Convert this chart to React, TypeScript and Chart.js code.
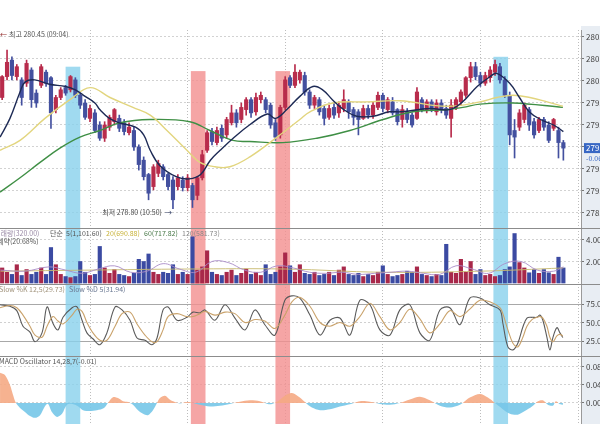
import React, { useEffect, useRef } from "react";
import { Chart, registerables } from "chart.js";

Chart.register(...registerables);

const FONT = "'Noto Sans CJK KR', 'Noto Sans', sans-serif";
Chart.defaults.font.family = FONT;

// ---------------- data ----------------
// 3-minute candles, time in minutes after 09:00
const candleTimes: number[] = Array.from({ length: 116 }, (_, i) => 6 + 3 * i);

const opens = [
  279.85, 280.04, 280.19, 280.04, 280.01, 279.98, 280.1, 279.89, 279.96, 280.08,
  280.03, 279.74, 279.85, 279.94, 279.92, 280.01, 279.87, 279.8, 279.66, 279.71,
  279.6, 279.48, 279.58, 279.63, 279.66, 279.62, 279.53, 279.55, 279.4, 279.28,
  279.15, 279.04, 279.16, 279.22, 279.15, 279.1, 279.04, 279.1, 279.03, 279.05,
  278.96, 279.12, 279.37, 279.54, 279.44, 279.57, 279.51, 279.62, 279.71, 279.65,
  279.74, 279.83, 279.72, 279.83, 279.83, 279.78, 279.62, 279.51, 279.76, 280.03,
  279.96, 280.01, 280.05, 279.9, 279.78, 279.83, 279.75, 279.67, 279.76, 279.71,
  279.75, 279.81, 279.74, 279.72, 279.66, 279.75, 279.69, 279.76, 279.87, 279.74,
  279.81, 279.74, 279.65, 279.72, 279.69, 279.66, 279.83, 279.74, 279.81, 279.72,
  279.8, 279.75, 279.66, 279.76, 279.81, 279.87, 280.03, 280.13, 280.05, 279.98,
  280.03, 280.08, 280.13, 280.01, 279.87, 279.55, 279.58, 279.65, 279.74, 279.63,
  279.55, 279.65, 279.6, 279.57, 279.55, 279.44,
];
const closes = [
  280.04, 280.17, 280.05, 280.13, 279.85, 280.16, 279.83, 279.8, 280.13, 279.98,
  279.71, 279.85, 279.92, 279.89, 280.04, 279.87, 279.78, 279.67, 279.75, 279.55,
  279.48, 279.6, 279.67, 279.74, 279.57, 279.54, 279.58, 279.4, 279.24, 279.13,
  278.98, 279.22, 279.25, 279.13, 279.04, 278.92, 279.12, 279.03, 279.12, 278.92,
  279.12, 279.33, 279.53, 279.45, 279.55, 279.48, 279.65, 279.71, 279.62, 279.76,
  279.83, 279.71, 279.85, 279.87, 279.74, 279.6, 279.49, 279.76, 280.01, 279.96,
  280.08, 280.08, 279.9, 279.78, 279.85, 279.72, 279.66, 279.75, 279.69, 279.78,
  279.83, 279.72, 279.67, 279.65, 279.75, 279.69, 279.78, 279.87, 279.75, 279.83,
  279.71, 279.63, 279.74, 279.65, 279.6, 279.9, 279.74, 279.81, 279.74, 279.8,
  279.74, 279.69, 279.78, 279.83, 279.9, 280.03, 280.13, 280.04, 279.98, 280.05,
  280.1, 280.15, 280.01, 279.87, 279.51, 279.49, 279.71, 279.78, 279.6, 279.51,
  279.65, 279.58, 279.46, 279.65, 279.44, 279.39,
];
const highs = [
  280.05, 280.28, 280.22, 280.15, 280.03, 280.19, 280.12, 279.92, 280.15, 280.1,
  280.04, 279.87, 279.94, 279.96, 280.05, 280.03, 279.89, 279.83, 279.78, 279.74,
  279.63, 279.63, 279.69, 279.75, 279.69, 279.65, 279.62, 279.58, 279.42, 279.31,
  279.16, 279.24, 279.28, 279.24, 279.16, 279.13, 279.15, 279.13, 279.15, 279.07,
  279.13, 279.37, 279.55, 279.57, 279.58, 279.6, 279.67, 279.78, 279.74, 279.8,
  279.85, 279.85, 279.89, 279.9, 279.85, 279.8, 279.65, 279.78, 280.04, 280.05,
  280.15, 280.1, 280.08, 279.92, 279.87, 279.85, 279.78, 279.78, 279.8, 279.81,
  279.92, 279.83, 279.76, 279.74, 279.78, 279.78, 279.81, 279.9, 279.89, 279.85,
  279.85, 279.75, 279.78, 279.75, 279.71, 279.94, 279.85, 279.83, 279.83, 279.83,
  279.83, 279.78, 279.83, 279.85, 279.92, 280.04, 280.17, 280.17, 280.08, 280.08,
  280.13, 280.19, 280.16, 280.04, 279.9, 279.65, 279.74, 279.8, 279.76, 279.66,
  279.67, 279.67, 279.63, 279.66, 279.58, 279.46,
];
const lows = [
  279.83, 280.01, 280.01, 280.01, 279.78, 279.95, 279.76, 279.76, 279.94, 279.95,
  279.57, 279.71, 279.83, 279.87, 279.9, 279.85, 279.75, 279.65, 279.63, 279.53,
  279.46, 279.45, 279.55, 279.6, 279.54, 279.51, 279.51, 279.37, 279.19, 279.1,
  278.92, 279.01, 279.13, 279.1, 279.01, 278.84, 279.01, 279.0, 279.0, 278.85,
  278.92, 279.1, 279.35, 279.42, 279.42, 279.45, 279.48, 279.6, 279.58, 279.62,
  279.69, 279.67, 279.69, 279.8, 279.71, 279.57, 279.46, 279.48, 279.74, 279.94,
  279.94, 279.98, 279.87, 279.75, 279.75, 279.69, 279.6, 279.65, 279.66, 279.67,
  279.72, 279.66, 279.6, 279.51, 279.65, 279.66, 279.66, 279.74, 279.72, 279.71,
  279.69, 279.6, 279.58, 279.62, 279.58, 279.65, 279.72, 279.71, 279.72, 279.69,
  279.71, 279.66, 279.49, 279.74, 279.78, 279.85, 279.99, 280.01, 279.95, 279.96,
  279.99, 280.05, 279.98, 279.85, 279.42, 279.3, 279.55, 279.62, 279.55, 279.48,
  279.53, 279.55, 279.44, 279.55, 279.3, 279.28,
];
const volumes = [
  1.4, 1.0, 0.8, 1.7, 0.7, 1.25, 0.8, 1.0, 1.4, 0.8,
  3.3, 1.7, 0.8, 0.6, 0.5, 0.6, 2.0, 1.0, 0.7, 0.8,
  3.4, 1.4, 0.9, 1.25, 0.8, 0.7, 0.6, 0.9, 2.2, 2.0,
  2.7, 1.0, 0.8, 1.0, 0.9, 1.7, 0.8, 1.0, 0.8, 4.3,
  1.2, 1.5, 3.0, 1.0, 0.8, 0.7, 1.0, 1.2, 0.7, 0.9,
  1.3, 0.8, 1.0, 0.7, 1.7, 0.8, 1.0, 1.5, 2.8, 1.6,
  1.0, 1.7, 0.9, 0.8, 1.0, 0.7, 0.8, 1.0, 0.7, 1.2,
  1.5, 0.8, 0.7, 0.9, 0.6, 0.8, 0.7, 1.0, 1.6, 0.8,
  0.6, 0.7, 0.8, 1.1, 1.0, 1.5, 0.8, 0.7, 0.6, 0.8,
  0.7, 3.6, 1.0, 0.9, 2.2, 1.0, 2.0, 0.8, 1.25, 0.7,
  0.8, 0.6, 0.7, 1.25, 1.5, 4.6, 1.9, 1.4, 0.95, 1.25,
  0.9, 1.25, 0.95, 0.8, 2.4, 1.4,
];

const ma5Times = [4.7, 10.8, 17, 20, 26, 35, 45, 51, 57, 63, 66, 72, 78, 88, 93, 97, 103, 113, 121, 128, 134, 140, 148, 158, 169, 174, 181, 189, 197, 203, 209, 216, 224, 234, 244, 251, 269, 281, 289, 298, 306, 310, 318, 324, 330, 337, 345, 351];
const ma5Values = [279.49, 279.66, 279.9, 279.99, 280.01, 279.97, 279.95, 279.92, 279.86, 279.8, 279.74, 279.66, 279.62, 279.58, 279.51, 279.37, 279.23, 279.13, 279.11, 279.15, 279.28, 279.37, 279.48, 279.6, 279.7, 279.66, 279.74, 279.86, 279.95, 279.92, 279.83, 279.74, 279.68, 279.68, 279.72, 279.72, 279.75, 279.74, 279.81, 279.95, 280.04, 280.07, 279.98, 279.85, 279.72, 279.65, 279.6, 279.54];
const ma20Times = [4.7, 17, 32.3, 47.7, 60, 72.3, 86.4, 97, 107.3, 119.6, 127.6, 136.8, 146, 158.3, 175, 189, 195.2, 209.3, 230.2, 250.5, 279.4, 299.7, 310.2, 320, 330.4, 341, 350.7];
const ma20Values = [279.37, 279.46, 279.66, 279.83, 279.94, 279.85, 279.76, 279.69, 279.55, 279.37, 279.26, 279.22, 279.22, 279.31, 279.49, 279.65, 279.72, 279.8, 279.81, 279.82, 279.77, 279.81, 279.85, 279.87, 279.85, 279.81, 279.77];
const ma60Times = [4.7, 17, 29.3, 41.5, 53.8, 66.1, 78.4, 96.9, 121.4, 133.7, 147.9, 158.3, 178.6, 199.5, 219.8, 240.1, 258.5, 279.4, 289.2, 299.7, 320, 350.7];
const ma60Values = [278.99, 279.12, 279.26, 279.39, 279.49, 279.55, 279.62, 279.65, 279.63, 279.55, 279.46, 279.45, 279.44, 279.48, 279.55, 279.65, 279.72, 279.74, 279.76, 279.79, 279.8, 279.76];

const volMa5Times = [5, 20, 35, 45, 55, 65, 75, 85, 95, 105, 115, 125, 135, 145, 155, 165, 175, 185, 195, 205, 215, 225, 235, 245, 255, 265, 275, 285, 295, 305, 315, 325, 335, 345, 351];
const volMa5Values = [1.2, 1.1, 1.5, 1.2, 0.9, 1.3, 1.6, 1.0, 1.1, 1.8, 1.3, 1.0, 2.0, 1.9, 1.2, 1.0, 1.6, 1.4, 1.0, 0.9, 1.0, 0.8, 0.9, 1.0, 1.1, 0.9, 0.8, 1.6, 1.3, 0.9, 1.8, 2.0, 1.2, 1.1, 1.5];
const volMa20Times = [5, 60, 120, 180, 240, 300, 351];
const volMa20Values = [1.1, 1.2, 1.3, 1.3, 1.0, 1.1, 1.4];

const stochTimes = [4.7, 10.8, 15, 18.8, 23.1, 26.2, 30.5, 33.6, 37.2, 40.3, 43.4, 49, 52, 55.1, 58.1, 61.8, 66.1, 70.4, 75.4, 79.7, 84.6, 88.9, 93.8, 98.1, 101.2, 104.9, 108, 113.5, 119.6, 123.3, 127.6, 130.7, 136.8, 143, 149.1, 155.3, 161.4, 167.5, 173.7, 179.8, 184.1, 189, 195.2, 201.4, 207.5, 213.6, 219.8, 225.9, 232.1, 238.2, 244.4, 250.5, 256.6, 262.8, 268.9, 275.1, 281.2, 287.4, 293.5, 299.7, 305.8, 312, 313.8, 316.9, 320, 323, 326.1, 328.6, 331.7, 334.7, 336.6, 338.4, 340.9, 342.7, 344.6, 347, 348.9, 350.7];
const stochK = [74, 72, 66, 45, 37, 24, 36, 71, 49, 40, 57, 70, 71, 53, 36, 28, 20, 36, 71, 67, 53, 29, 26, 20, 29, 67, 71, 53, 57, 64, 63, 67, 53, 74, 56, 40, 67, 47, 33, 80, 86, 83, 60, 33, 53, 56, 33, 80, 74, 40, 33, 67, 74, 36, 26, 67, 70, 47, 83, 83, 74, 67, 49, 17, 13, 22, 44, 56, 57, 57, 60, 53, 30, 13, 30, 43, 36, 29.7];
const stochD = [70, 73, 70, 60, 45, 33, 30, 45, 58, 52, 48, 60, 68, 65, 50, 36, 26, 26, 45, 62, 64, 48, 33, 24, 24, 40, 58, 62, 58, 58, 62, 65, 60, 64, 62, 50, 54, 52, 42, 60, 78, 84, 72, 50, 45, 50, 45, 58, 76, 58, 40, 50, 68, 55, 36, 48, 66, 58, 68, 80, 78, 70, 62, 40, 22, 17, 30, 45, 54, 57, 58, 56, 45, 30, 24, 32, 34, 31.9];

const macdTimes = [4.7, 7.7, 10.8, 12.7, 14.5, 17, 20, 23.1, 26.2, 29.3, 32.3, 34.2, 36.6, 39.7, 42.8, 45.8, 49, 52.6, 55.7, 60, 64.3, 68.6, 71, 74.1, 77.2, 80.3, 83.4, 86.4, 89.5, 92.6, 95.6, 98.7, 101.2, 103, 106.1, 109.2, 112.2, 115.3, 119.6, 123.3, 127.6, 133.7, 139.9, 146, 152.2, 158.3, 164.5, 170.6, 175.5, 179.8, 184.1, 189, 192.7, 196.4, 201.4, 207.5, 213.6, 219.8, 225.9, 232.1, 238.2, 244.4, 250.5, 256.6, 262.8, 268.9, 275.1, 281.2, 287.4, 293.5, 299.7, 304.6, 308.9, 313.2, 318.1, 323, 327.3, 331.7, 335.4, 338.4, 341.5, 344.6, 346.4, 348.9, 350.7];
const macdValues = [
  0.067, 0.062, 0.04, 0.018, 0.0, -0.011, -0.02, -0.029, -0.033, -0.027,
  -0.007, -0.002, -0.02, -0.031, -0.024, -0.004, -0.002, -0.007, -0.016, -0.018,
  -0.016, -0.011, 0.0, 0.013, 0.011, 0.004, 0.002, -0.004, -0.016, -0.024,
  -0.027, -0.016, 0.0, 0.011, 0.016, 0.007, 0.002, -0.001, 0.002, 0.0,
  -0.004, -0.008, -0.006, -0.002, 0.003, 0.006, 0.004, -0.003, 0.004, 0.016,
  0.022, 0.012, 0.0, -0.01, -0.016, -0.014, -0.008, -0.003, 0.004, 0.003,
  -0.002, -0.004, 0.0, 0.008, 0.014, 0.006, -0.006, -0.01, -0.004, 0.012,
  0.02, 0.012, 0.0, -0.012, -0.024, -0.026, -0.018, -0.008, 0.004, 0.006,
  -0.004, -0.006, 0.004, -0.003, -0.004,
];

const hourTicks = [60, 120, 180, 240, 300, 360];
const priceTicks = [278.8, 279.0, 279.2, 279.4, 279.6, 279.8, 280.0, 280.2, 280.4];
const volumeTicks = [2, 4];
const stochTicks = [25, 50, 75];
const macdTicks = [0, 0.04, 0.08];

const bandFrom = [45, 122, 174, 308];
const bandTo = [54, 131, 183, 317];
const bandKind = ["blue", "red", "red", "blue"];
const bandTopPrice = [280.13, 280.09, 280.09, 280.22];

// ---------------- layout / style ----------------
const CW = 630;
const AXIS_W = 49;
const X_MIN = 4.67;
const X_MAX = 361.84;
const UP = "#b82c4c";
const DOWN = "#43509f";
const VUP = "#a8284a";
const VDOWN = "#3b4aa2";
const candleColors = closes.map((c, i) => (c >= opens[i] ? UP : DOWN));
const volColors = closes.map((c, i) => (c >= opens[i] ? VUP : VDOWN));

const pts = (xs: number[], ys: number[]) => xs.map((x, i) => ({ x, y: ys[i] }));

function scales(yMin: number, yMax: number, ticks: number[], fmt: (v: number) => string, gridColor: any, dash: any) {
  return {
    x: {
      type: "linear",
      min: X_MIN,
      max: X_MAX,
      offset: false,
      afterBuildTicks: (s: any) => {
        s.ticks = hourTicks.map((v) => ({ value: v }));
      },
      afterFit: (s: any) => {
        s.height = 0;
        s.paddingLeft = 0;
        s.paddingRight = 0;
      },
      ticks: { display: false },
      grid: { color: "#bdbdbd", drawTicks: false, offset: false },
      border: { display: false, dash: [1, 2] },
    },
    y: {
      type: "linear",
      position: "right",
      min: yMin,
      max: yMax,
      afterBuildTicks: (s: any) => {
        s.ticks = ticks.map((v) => ({ value: v }));
      },
      afterFit: (s: any) => {
        s.width = AXIS_W;
        s.paddingTop = 0;
        s.paddingBottom = 0;
      },
      ticks: {
        color: "#444",
        font: { size: 8, family: FONT },
        padding: 2,
        callback: (v: any) => fmt(Number(v)),
      },
      grid: { color: gridColor, tickLength: 3, tickColor: "#777" },
      border: { display: true, color: "#9a9a9a", dash },
    },
  };
}

function bandsPlugin(tops: number[] | null) {
  return {
    id: "bands",
    beforeDatasetsDraw(chart: any) {
      const { ctx, chartArea, scales: sc } = chart;
      ctx.save();
      bandFrom.forEach((from, k) => {
        const x1 = sc.x.getPixelForValue(from);
        const x2 = sc.x.getPixelForValue(bandTo[k]);
        const top = tops ? sc.y.getPixelForValue(tops[k]) : chartArea.top;
        ctx.fillStyle = bandKind[k] === "blue" ? "rgba(136,209,236,0.8)" : "rgba(242,142,142,0.8)";
        ctx.fillRect(x1, top, x2 - x1, chartArea.bottom - top);
      });
      ctx.restore();
    },
  };
}

function overlayPlugin(draw: (chart: any) => void) {
  return { id: "overlay", afterDraw: draw };
}

function separator(chart: any) {
  const { ctx, chartArea } = chart;
  ctx.save();
  ctx.strokeStyle = "#8c8c8c";
  ctx.lineWidth = 1;
  ctx.beginPath();
  ctx.moveTo(0, chartArea.top + 0.5);
  ctx.lineTo(CW, chartArea.top + 0.5);
  ctx.stroke();
  ctx.restore();
}

function put(ctx: any, s: string, x: number, y: number, color: string, align = "left", size = 7) {
  ctx.font = `${size}px ${FONT}`;
  ctx.textBaseline = "middle";
  ctx.textAlign = align;
  ctx.fillStyle = color;
  ctx.fillText(s, x, y);
}

const common = {
  responsive: false,
  animation: false,
  events: [],
  plugins: { legend: { display: false }, tooltip: { enabled: false } },
};

function priceConfig(): any {
  const lowIdx = lows.indexOf(Math.min(...lows));
  const last = closes.length - 1;
  return {
    type: "bar",
    data: {
      datasets: [
        { type: "line", data: pts(ma5Times, ma5Values), borderColor: "#1d2a55", borderWidth: 1.4, pointRadius: 0, tension: 0.4, order: 0 },
        { type: "line", data: pts(ma20Times, ma20Values), borderColor: "#e2d57e", borderWidth: 1.4, pointRadius: 0, tension: 0.4, order: 0 },
        { type: "line", data: pts(ma60Times, ma60Values), borderColor: "#3f8f45", borderWidth: 1.4, pointRadius: 0, tension: 0.4, order: 0 },
        { type: "bar", data: candleTimes.map((t, i) => ({ x: t, y: [opens[i], closes[i]] })), backgroundColor: candleColors, barThickness: 3.5, grouped: false, minBarLength: 1, order: 2 },
        { type: "bar", data: candleTimes.map((t, i) => ({ x: t, y: [lows[i], highs[i]] })), backgroundColor: candleColors, barThickness: 1, grouped: false, order: 3 },
      ],
    },
    options: {
      ...common,
      layout: { padding: { top: 4, bottom: 0, left: 0, right: 0 } },
      scales: scales(278.6636, 280.4636, priceTicks, (v) => v.toFixed(2), "#d2d2d2", [2, 2]),
    },
    plugins: [
      bandsPlugin(bandTopPrice),
      overlayPlugin((chart: any) => {
        const { ctx, chartArea, scales: sc } = chart;
        ctx.save();
        put(ctx, "←", 0, 8, "#8e1f1f");
        put(ctx, "최고 280.45 (09:04)", 9, 8, "#555");
        const px = sc.x.getPixelForValue(candleTimes[lowIdx]);
        const py = sc.y.getPixelForValue(lows[lowIdx]) + 4;
        put(ctx, "→", px - 1, py, "#1d2a55", "right");
        put(ctx, "최저 278.80 (10:50)", px - 11, py, "#444", "right");
        const cy = sc.y.getPixelForValue(closes[last]);
        ctx.fillStyle = "#3867c4";
        ctx.fillRect(chartArea.right + 3, cy - 5, 60, 10);
        put(ctx, closes[last].toFixed(2), chartArea.right + 5, cy, "#ffffff", "left", 8);
        put(ctx, "-0.06", chartArea.right + 5, cy + 10, "#3867c4", "left", 7);
        ctx.restore();
      }),
    ],
  };
}

function volumeConfig(): any {
  return {
    type: "bar",
    data: {
      datasets: [
        { type: "line", data: pts(volMa5Times, volMa5Values), borderColor: "rgba(170,140,200,0.9)", borderWidth: 1, pointRadius: 0, tension: 0.4, order: 0 },
        { type: "line", data: pts(volMa20Times, volMa20Values), borderColor: "rgba(200,185,110,0.9)", borderWidth: 1, pointRadius: 0, tension: 0.4, order: 0 },
        { type: "bar", data: candleTimes.map((t, i) => ({ x: t, y: volumes[i] })), backgroundColor: volColors, barThickness: 3.5, grouped: false, order: 2 },
      ],
    },
    options: {
      ...common,
      layout: { padding: 0 },
      scales: scales(-0.093, 5.116, volumeTicks, (v) => v.toFixed(2), "#d2d2d2", [2, 2]),
    },
    plugins: [
      bandsPlugin(null),
      overlayPlugin((chart: any) => {
        const { ctx } = chart;
        ctx.save();
        separator(chart);
        put(ctx, "거래량(320.00)", -6, 5, "#9a8aa6");
        put(ctx, "단순", 50, 5, "#555");
        put(ctx, "5(1,101.60)", 66, 5, "#555");
        put(ctx, "20(690.88)", 106, 5, "#c9b33a");
        put(ctx, "60(717.82)", 144, 5, "#4a7a4a");
        put(ctx, "120(581.73)", 182, 5, "#888");
        put(ctx, "계약(20.68%)", -3, 13, "#555");
        ctx.restore();
      }),
    ],
  };
}

function stochConfig(): any {
  return {
    type: "line",
    data: {
      datasets: [
        { data: pts(stochTimes, stochD), borderColor: "#c9a26b", borderWidth: 1.1, pointRadius: 0, tension: 0.35 },
        { data: pts(stochTimes, stochK), borderColor: "#5a5a5a", borderWidth: 1.1, pointRadius: 0, tension: 0.35 },
      ],
    },
    options: {
      ...common,
      layout: { padding: 0 },
      scales: scales(
        4.73,
        102.03,
        stochTicks,
        (v) => v.toFixed(2),
        (c: any) => (c.tick && c.tick.value === 50 ? "#d0d0d0" : "#a8a8a8"),
        (c: any) => (c.tick && c.tick.value === 50 ? [2, 2] : [])
      ),
    },
    plugins: [
      bandsPlugin(null),
      overlayPlugin((chart: any) => {
        const { ctx } = chart;
        ctx.save();
        separator(chart);
        put(ctx, "Slow %K 12,5(29.73)", -1, 5, "#a0927a");
        put(ctx, "Slow %D 5(31.94)", 69, 5, "#6a7892");
        ctx.restore();
      }),
    ],
  };
}

function macdConfig(): any {
  return {
    type: "line",
    data: {
      datasets: [
        {
          data: pts(macdTimes, macdValues),
          borderColor: "rgba(0,0,0,0)",
          borderWidth: 1,
          pointRadius: 0,
          tension: 0.3,
          fill: { target: "origin", above: "rgba(245,170,132,0.9)", below: "rgba(118,198,232,0.9)" },
        },
      ],
    },
    options: {
      ...common,
      layout: { padding: 0 },
      scales: scales(-0.0467, 0.1044, macdTicks, (v) => v.toFixed(3), "#d2d2d2", [2, 2]),
    },
    plugins: [
      bandsPlugin(null),
      overlayPlugin((chart: any) => {
        const { ctx } = chart;
        ctx.save();
        separator(chart);
        put(ctx, "MACD Oscillator 14,28,7(-0.01)", -1, 5, "#555");
        ctx.restore();
      }),
    ],
  };
}

export default function App() {
  const priceRef = useRef<HTMLCanvasElement>(null);
  const volRef = useRef<HTMLCanvasElement>(null);
  const stochRef = useRef<HTMLCanvasElement>(null);
  const macdRef = useRef<HTMLCanvasElement>(null);

  useEffect(() => {
    const charts = [
      new Chart(priceRef.current as HTMLCanvasElement, priceConfig()),
      new Chart(volRef.current as HTMLCanvasElement, volumeConfig()),
      new Chart(stochRef.current as HTMLCanvasElement, stochConfig()),
      new Chart(macdRef.current as HTMLCanvasElement, macdConfig()),
    ];
    return () => charts.forEach((c) => c.destroy());
  }, []);

  const cs = (top: number): React.CSSProperties => ({ position: "absolute", left: 0, top });

  return (
    <div style={{ position: "fixed", left: 0, top: 0, width: 600, height: 424, overflow: "hidden", background: "#ffffff" }}>
      <div style={{ position: "absolute", left: 581, top: 26, width: 19, height: 398, background: "#e8edf3" }} />
      <canvas ref={priceRef} width={CW} height={202} style={cs(26)} />
      <canvas ref={volRef} width={CW} height={56} style={cs(228)} />
      <canvas ref={stochRef} width={CW} height={72} style={cs(284)} />
      <canvas ref={macdRef} width={CW} height={68} style={cs(356)} />
    </div>
  );
}
